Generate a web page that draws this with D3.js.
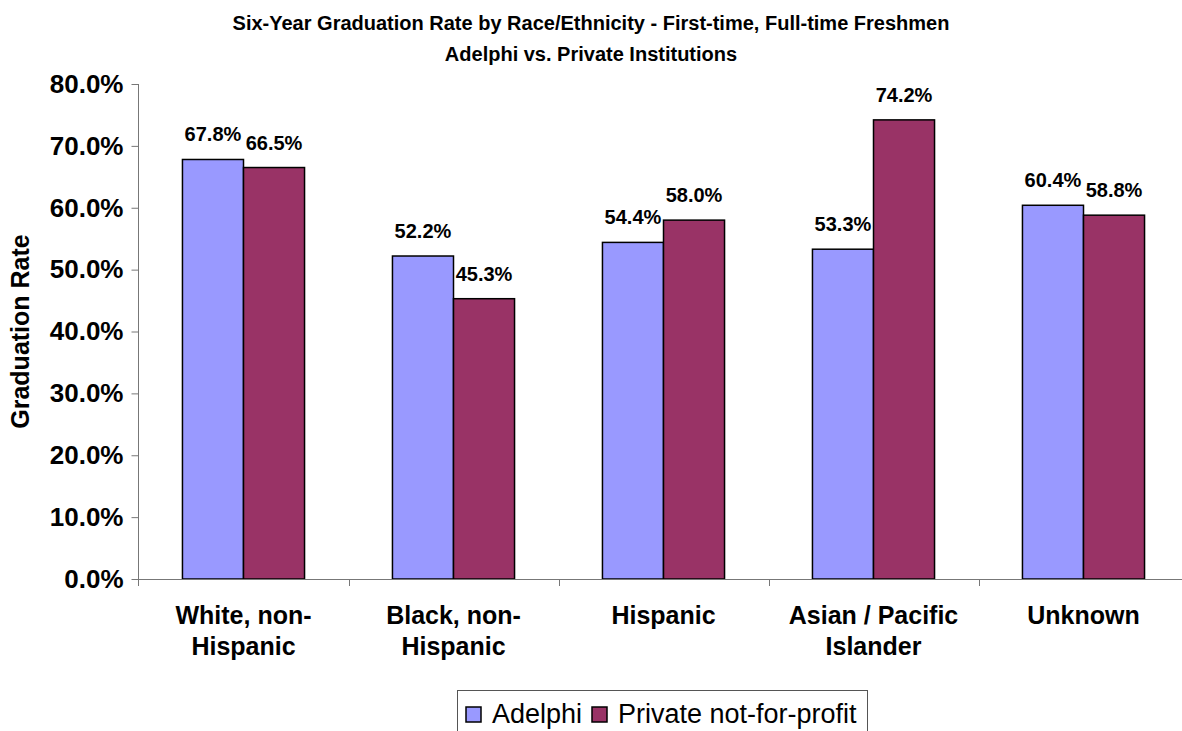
<!DOCTYPE html>
<html>
<head>
    <title>Six-Year Graduation Rate</title>
    <script src="https://d3js.org/d3.v7.min.js"></script>
    <style>
        body { margin: 0; background: #fff; }
        text { font-family: "Liberation Sans", Arial, sans-serif; }
    </style>
</head>
<body>
<script type="text/javascript">
    const w = 1182;
    const h = 731;

    // chart values
    const categories = ['White, non-Hispanic', 'Black, non-Hispanic', 'Hispanic', 'Asian / Pacific Islander', 'Unknown'];
    const categoryLines = [['White, non-', 'Hispanic'], ['Black, non-', 'Hispanic'], ['Hispanic'], ['Asian / Pacific', 'Islander'], ['Unknown']];
    const seriesNames = ['Adelphi', 'Private not-for-profit'];
    const adelphi = [67.8, 52.2, 54.4, 53.3, 60.4];
    const privateNfp = [66.5, 45.3, 58.0, 74.2, 58.8];
    const yTicks = [0, 10, 20, 30, 40, 50, 60, 70, 80];
    const colors = ['#9999ff', '#993366'];

    const svg = d3.select('body').append('svg').attr('width', w).attr('height', h);

    const x0 = d3.scaleBand()
        .domain(categories)
        .range([138.5, 1188.5]);

    const x1 = d3.scaleBand()
        .domain(seriesNames)
        .range([0, x0.bandwidth()])
        .paddingOuter(0.72);

    const y = d3.scaleLinear()
        .domain([0, 80])
        .range([579, 84]);

    // title
    svg.append('text')
        .attr('x', 591)
        .attr('y', 30)
        .attr('text-anchor', 'middle')
        .attr('font-size', '20px')
        .attr('font-weight', 'bold')
        .text('Six-Year Graduation Rate by Race/Ethnicity - First-time, Full-time Freshmen');

    svg.append('text')
        .attr('x', 591)
        .attr('y', 61)
        .attr('text-anchor', 'middle')
        .attr('font-size', '20px')
        .attr('font-weight', 'bold')
        .text('Adelphi vs. Private Institutions');

    // y axis
    const yAxis = d3.axisLeft(y)
        .tickValues(yTicks)
        .tickFormat(d => d.toFixed(1) + '%')
        .tickSize(7)
        .tickSizeOuter(0)
        .tickPadding(8);

    const gy = svg.append('g')
        .attr('transform', 'translate(138.5,0)')
        .call(yAxis);
    gy.select('.domain').attr('stroke', '#777').attr('d', 'M0,84V586');
    gy.selectAll('.tick line').attr('stroke', '#777');
    gy.selectAll('.tick text')
        .attr('fill', '#000')
        .attr('font-size', '26px')
        .attr('font-weight', 'bold')
        .attr('font-family', '"Liberation Sans", Arial, sans-serif');

    svg.append('text')
        .attr('transform', 'translate(29,' + y(40) + ') rotate(-90)')
        .attr('text-anchor', 'middle')
        .attr('font-size', '25px')
        .attr('font-weight', 'bold')
        .text('Graduation Rate');

    // bars
    const rows = categories.map((c, i) => ({cat: c, values: [adelphi[i], privateNfp[i]]}));

    const groups = svg.selectAll('g.group')
        .data(rows)
        .enter()
        .append('g')
        .attr('class', 'group')
        .attr('transform', d => 'translate(' + x0(d.cat) + ',0)');

    groups.selectAll('rect')
        .data(d => d.values.map((v, j) => ({s: seriesNames[j], v: v, j: j})))
        .enter()
        .append('rect')
        .attr('x', d => x1(d.s))
        .attr('y', d => y(d.v))
        .attr('width', x1.bandwidth())
        .attr('height', d => y(0) - y(d.v))
        .attr('fill', d => colors[d.j])
        .attr('stroke', '#000')
        .attr('stroke-width', 1.5);

    groups.selectAll('text.val')
        .data(d => d.values.map((v, j) => ({s: seriesNames[j], v: v})))
        .enter()
        .append('text')
        .attr('class', 'val')
        .attr('x', d => x1(d.s) + x1.bandwidth() / 2)
        .attr('y', d => y(d.v) - 18)
        .attr('text-anchor', 'middle')
        .attr('font-size', '20px')
        .attr('font-weight', 'bold')
        .text(d => d.v.toFixed(1) + '%');

    // x axis
    svg.append('line')
        .attr('x1', 138.5).attr('x2', 1188.5)
        .attr('y1', y(0) + 0.5).attr('y2', y(0) + 0.5)
        .attr('stroke', '#777');

    svg.selectAll('line.xtick')
        .data(categories.slice(1))
        .enter()
        .append('line')
        .attr('class', 'xtick')
        .attr('x1', d => Math.round(x0(d)) + 0.5)
        .attr('x2', d => Math.round(x0(d)) + 0.5)
        .attr('y1', y(0))
        .attr('y2', y(0) + 7)
        .attr('stroke', '#777');

    const labels = svg.selectAll('text.cat')
        .data(categories)
        .enter()
        .append('text')
        .attr('class', 'cat')
        .attr('x', d => x0(d) + x0.bandwidth() / 2)
        .attr('y', 624)
        .attr('text-anchor', 'middle')
        .attr('font-size', '25px')
        .attr('font-weight', 'bold');

    labels.selectAll('tspan')
        .data((d, i) => categoryLines[i])
        .enter()
        .append('tspan')
        .attr('x', function () { return d3.select(this.parentNode).attr('x'); })
        .attr('dy', (d, i) => i === 0 ? 0 : 31)
        .text(d => d);

    // legend
    const legend = svg.append('g');
    legend.append('rect')
        .attr('x', 457.5).attr('y', 690.5)
        .attr('width', 410).attr('height', 60)
        .attr('fill', '#fff')
        .attr('stroke', '#555');

    const legendX = [466, 592];
    seriesNames.forEach((s, i) => {
        legend.append('rect')
            .attr('x', legendX[i]).attr('y', 707)
            .attr('width', 15).attr('height', 15)
            .attr('fill', colors[i])
            .attr('stroke', '#000')
            .attr('stroke-width', 1.5);
        legend.append('text')
            .attr('x', legendX[i] + 26)
            .attr('y', 723)
            .attr('font-size', '27px')
            .text(s);
    });
</script>
</body>
</html>
